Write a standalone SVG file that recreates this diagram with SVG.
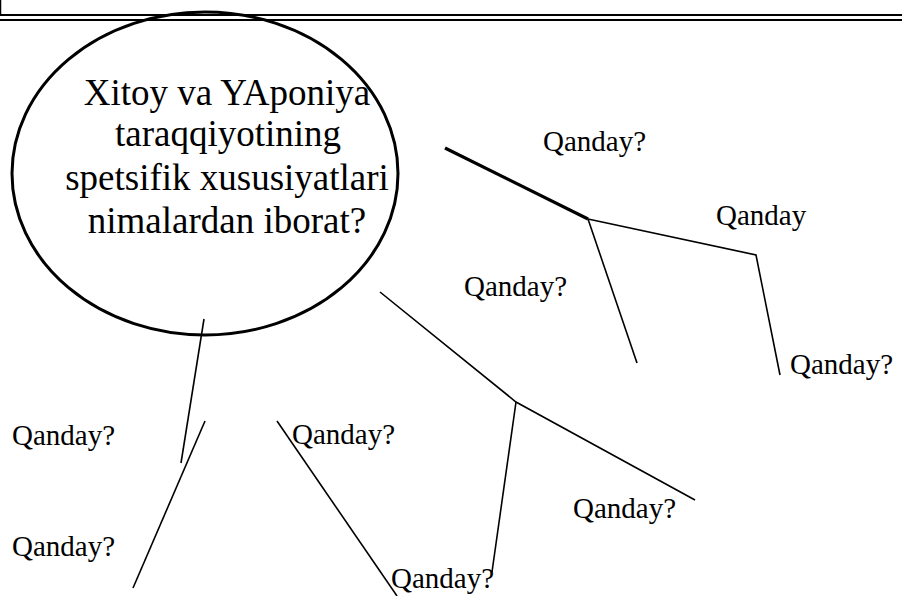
<svg xmlns="http://www.w3.org/2000/svg" width="902" height="596" viewBox="0 0 902 596">
<style>
text{font-family:'Liberation Serif','Times New Roman',Times,serif;fill:#000}
.lbl{font-size:29px}
.main{font-size:37px;text-anchor:middle}
.c{stroke:#000;stroke-width:1.6;fill:none;stroke-linecap:butt}
.thick{stroke-width:3.2}
</style>
<rect width="902" height="596" fill="#fff"/>
<g id="header">
<line x1="0.5" y1="0" x2="0.5" y2="16" stroke="#000" stroke-width="1.5"/>
<line x1="0" y1="15" x2="902" y2="15" stroke="#000" stroke-width="2.2"/>
<line x1="0" y1="20" x2="902" y2="20" stroke="#000" stroke-width="2.2"/>
</g>
<g id="connectors">
<path class="c thick" d="M445 148 L588 219"/>
<path class="c" d="M588 219 L756 255 L780 375"/>
<path class="c" d="M588 219 L637 363"/>
<path class="c" d="M380 292 L516 402 L695 500"/>
<path class="c" d="M516 402 L492 572"/>
<path class="c" d="M204 319 L181 463"/>
<path class="c" d="M205 421 L133 588"/>
<path class="c" d="M277 421 L397 596"/>
</g>
<g id="center">
<ellipse cx="205" cy="173.5" rx="193" ry="161.5" fill="none" stroke="#000" stroke-width="3"/>
<text class="main" font-family="Liberation Serif, serif" x="227" y="105">Xitoy va YAponiya</text>
<text class="main" font-family="Liberation Serif, serif" x="228" y="146">taraqqiyotining</text>
<text class="main" font-family="Liberation Serif, serif" x="227" y="190">spetsifik xususiyatlari</text>
<text class="main" font-family="Liberation Serif, serif" x="227" y="233">nimalardan iborat?</text>
</g>
<g id="n1"><text class="lbl" x="543" y="151">Qanday?</text></g>
<g id="n2"><text class="lbl" x="716" y="225">Qanday</text></g>
<g id="n3"><text class="lbl" x="790" y="374">Qanday?</text></g>
<g id="n4"><text class="lbl" x="464" y="296">Qanday?</text></g>
<g id="n5"><text class="lbl" x="12" y="445">Qanday?</text></g>
<g id="n6"><text class="lbl" x="292" y="444">Qanday?</text></g>
<g id="n7"><text class="lbl" x="12" y="556">Qanday?</text></g>
<g id="n8"><text class="lbl" x="391" y="588">Qanday?</text></g>
<g id="n9"><text class="lbl" x="573" y="518">Qanday?</text></g>
</svg>
